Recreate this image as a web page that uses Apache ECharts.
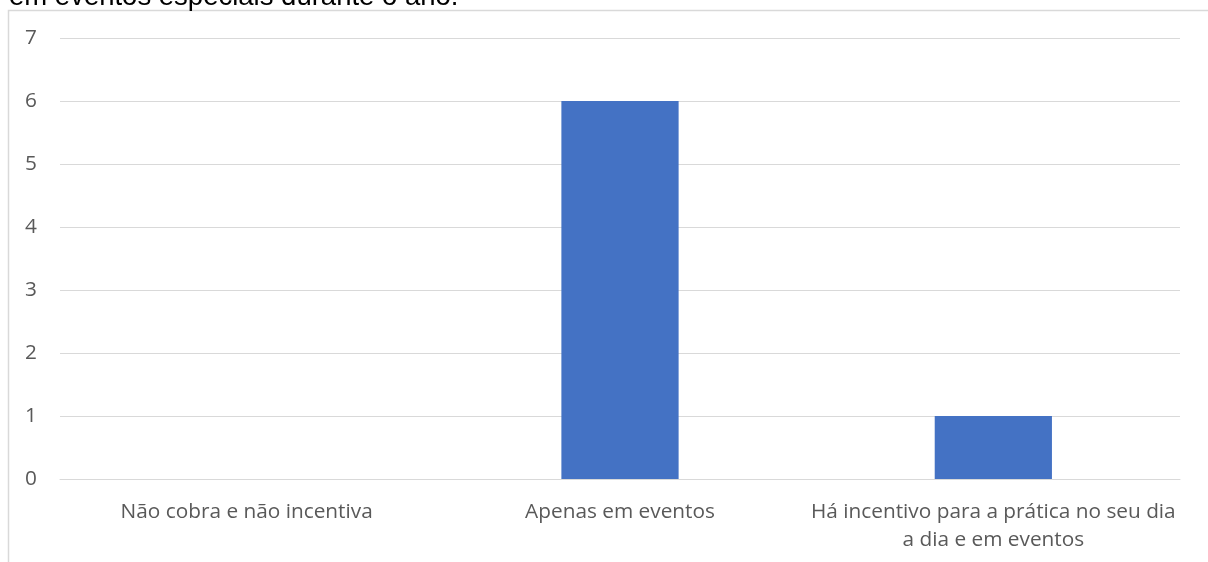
<!DOCTYPE html>
<html>
<head>
<meta charset="utf-8">
<script src="https://cdn.jsdelivr.net/npm/echarts@6/dist/echarts.min.js"></script>
<style>
html,body{margin:0;padding:0;background:#fff;}
#chart{width:1208px;height:562px;}
</style>
</head>
<body>
<div id="chart"></div>
<script>
const categories = ['Não cobra e não incentiva', 'Apenas em eventos', 'Há incentivo para a prática no seu dia\na dia e em eventos'];
const values = [0, 6, 1];
const yTicks = [0, 1, 2, 3, 4, 5, 6, 7];
const titleText = 'em eventos especiais durante o ano.';

const chart = echarts.init(document.getElementById('chart'), null, {renderer: 'canvas'});
chart.setOption({
  animation: false,
  backgroundColor: '#ffffff',
  grid: {left: 60, right: 28, top: 38, bottom: 83, containLabel: false},
  graphic: [
    {type: 'rect', shape: {x: 8.5, y: 10.5, width: 1400, height: 800}, style: {fill: 'none', stroke: '#d9d9d9', lineWidth: 1.5}, silent: true, z: -1},
    {type: 'text', x: 9, y: -3, style: {text: titleText, font: '27.5px "Liberation Sans", Arial, sans-serif', fill: '#000000', verticalAlign: 'middle', align: 'left'}, silent: true}
  ],
  xAxis: {
    type: 'category',
    data: categories,
    axisLine: {show: true, lineStyle: {color: '#d9d9d9', width: 1}},
    axisTick: {show: false},
    axisLabel: {color: '#595959', fontSize: 20.8, fontFamily: '"Open Sans", Lato, sans-serif', margin: 19, lineHeight: 28, interval: 0}
  },
  yAxis: {
    type: 'value',
    min: yTicks[0],
    max: yTicks[yTicks.length - 1],
    interval: 1,
    axisLine: {show: false},
    axisTick: {show: false},
    splitLine: {lineStyle: {color: '#d9d9d9', width: 1}},
    axisLabel: {color: '#595959', fontSize: 20.8, fontFamily: '"Open Sans", Lato, sans-serif', margin: 23}
  },
  series: [{
    type: 'bar',
    data: values,
    barWidth: '31.4%',
    itemStyle: {color: '#4472c4'}
  }]
});
</script>
</body>
</html>
